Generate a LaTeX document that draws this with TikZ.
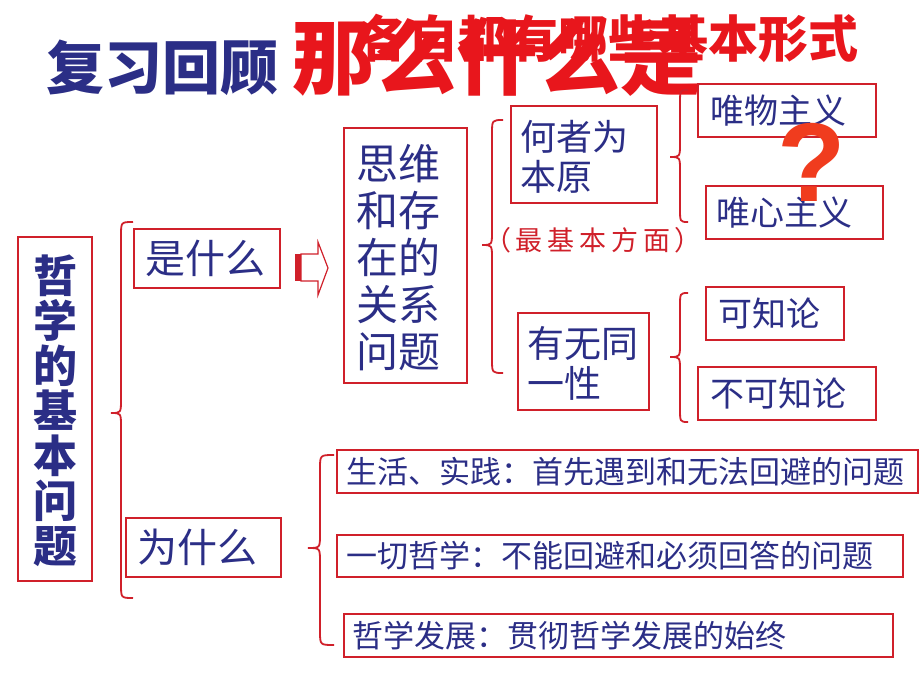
\documentclass[tikz,border=0pt]{standalone}
\usepackage{fontspec}
\setmainfont{Noto Sans CJK SC}
\newfontfamily\cjk{Noto Sans CJK SC}
\newfontfamily\qfont{Liberation Sans}
\definecolor{navy}{HTML}{2B2E86}
\definecolor{boxred}{HTML}{D0202A}
\definecolor{titlered}{HTML}{E8161C}
\definecolor{qorange}{HTML}{F03C1E}
\newcommand\mybrace[6]{%
  \draw[bracestyle] (#3,#4) .. controls (#2,#4) .. (#2,#4+14) -- (#2,#5-14)
    .. controls (#2,#5) .. (#1,#5) .. controls (#2,#5) .. (#2,#5+14)
    -- (#2,#6-14) .. controls (#2,#6) .. (#3,#6);}
\tikzset{
  boxstyle/.style={draw=boxred, line width=1.3pt, inner sep=0pt},
  txt/.style={text=navy, inner sep=0pt},
  bracestyle/.style={draw=boxred, line width=1.8pt},
}
\begin{document}
\begin{tikzpicture}[x=1pt,y=-1pt]
\useasboundingbox[fill=white] (0,0) rectangle (920,690);
% title
\node[txt, font=\cjk\bfseries\fontsize{58}{60}\selectfont] (t1) at (162,68) {复习回顾};
\node[inner sep=0pt, text=titlered, font=\cjk\bfseries\fontsize{50}{52}\selectfont] (t3) at (608,38) {各自都有哪些基本形式};
\node[inner sep=0pt, text=titlered, font=\cjk\bfseries\fontsize{82}{84}\selectfont] (t2) at (497,58) {那么什么是};
% boxes
\node[boxstyle, minimum width=74, minimum height=344] (main) at (55,409) {};
\node[txt, align=center, font=\cjk\bfseries\fontsize{44}{45}\selectfont] (maint) at (55,411) {哲\\学\\的\\基\\本\\问\\题};
\node[boxstyle, minimum width=146, minimum height=59] (shi) at (207,258.5) {};
\node[txt, font=\cjk\fontsize{40}{42}\selectfont] (shit) at (205,258.5) {是什么};
\node[boxstyle, minimum width=155, minimum height=59] (wei) at (203.5,547.5) {};
\node[txt, font=\cjk\fontsize{40}{42}\selectfont] (weit) at (197,547.5) {为什么};
\node[boxstyle, minimum width=123, minimum height=255] (siwei) at (405.5,255.5) {};
\node[txt, align=center, font=\cjk\fontsize{42}{47}\selectfont] (siweit) at (398,258) {思维\\和存\\在的\\关系\\问题};
\node[boxstyle, minimum width=146, minimum height=97] (hezhe) at (584,154.5) {};
\node[txt, align=left, anchor=west, font=\cjk\fontsize{36}{40}\selectfont] (hezhet) at (520,157) {何者为\\本原};
\node[boxstyle, minimum width=131, minimum height=97] (youwu) at (583.5,361.5) {};
\node[txt, align=left, anchor=west, font=\cjk\fontsize{37}{40}\selectfont] (youwut) at (527,363) {有无同\\一性};
\node[inner sep=0pt, text=boxred, font=\cjk\fontsize{27}{28}\selectfont] (zui) at (593,240) {（\hspace{4pt}最\hspace{5pt}基\hspace{5pt}本\hspace{5pt}方\hspace{5pt}面\hspace{4pt}）};
\node[boxstyle, minimum width=178, minimum height=53] (weiwu) at (787,110.5) {};
\node[txt, anchor=west, font=\cjk\fontsize{34}{36}\selectfont] (weiwut) at (710,110.5) {唯物主义};
\node[boxstyle, minimum width=177, minimum height=53] (weixin) at (794.5,212.5) {};
\node[txt, anchor=west, font=\cjk\fontsize{34}{36}\selectfont] (weixint) at (716,212.5) {唯心主义};
\node[boxstyle, minimum width=138, minimum height=53] (kezhi) at (775,313.5) {};
\node[txt, anchor=west, font=\cjk\fontsize{34}{36}\selectfont] (kezhit) at (718,313.5) {可知论};
\node[boxstyle, minimum width=178, minimum height=53] (bukezhi) at (787,393.5) {};
\node[txt, anchor=west, font=\cjk\fontsize{34}{36}\selectfont] (bukezhit) at (710,393.5) {不可知论};
\node[boxstyle, minimum width=581, minimum height=43] (b1) at (627.5,471.5) {};
\node[txt, anchor=west, font=\cjk\fontsize{31}{33}\selectfont] (b1t) at (346,471.5) {生活、实践：首先遇到和无法回避的问题};
\node[boxstyle, minimum width=566, minimum height=42] (b2) at (620,556) {};
\node[txt, anchor=west, font=\cjk\fontsize{31}{33}\selectfont] (b2t) at (346,556) {一切哲学：不能回避和必须回答的问题};
\node[boxstyle, minimum width=549, minimum height=43] (b3) at (618.5,635.5) {};
\node[txt, anchor=west, font=\cjk\fontsize{31}{33}\selectfont] (b3t) at (352,635.5) {哲学发展：贯彻哲学发展的始终};
% braces
\mybrace{111}{121}{133}{222}{413}{598}
\mybrace{482}{492}{503}{120}{245}{373}
\mybrace{670}{680}{688}{90}{157}{222}
\mybrace{670}{680}{688}{293}{357}{422}
\mybrace{308}{320}{334}{455}{548}{645}
% hollow arrow
\fill[boxred] (295,254) rectangle (301,281);
\draw[boxred, line width=1.2pt, fill=white] (301,254) -- (318,254) -- (318,242) -- (328,268) -- (318,295) -- (318,281) -- (301,281) -- cycle;
% question mark
\node[inner sep=0pt, text=qorange, font=\qfont\bfseries\fontsize{112}{112}\selectfont] (q) at (812,162) {?};
\end{tikzpicture}
\end{document}
